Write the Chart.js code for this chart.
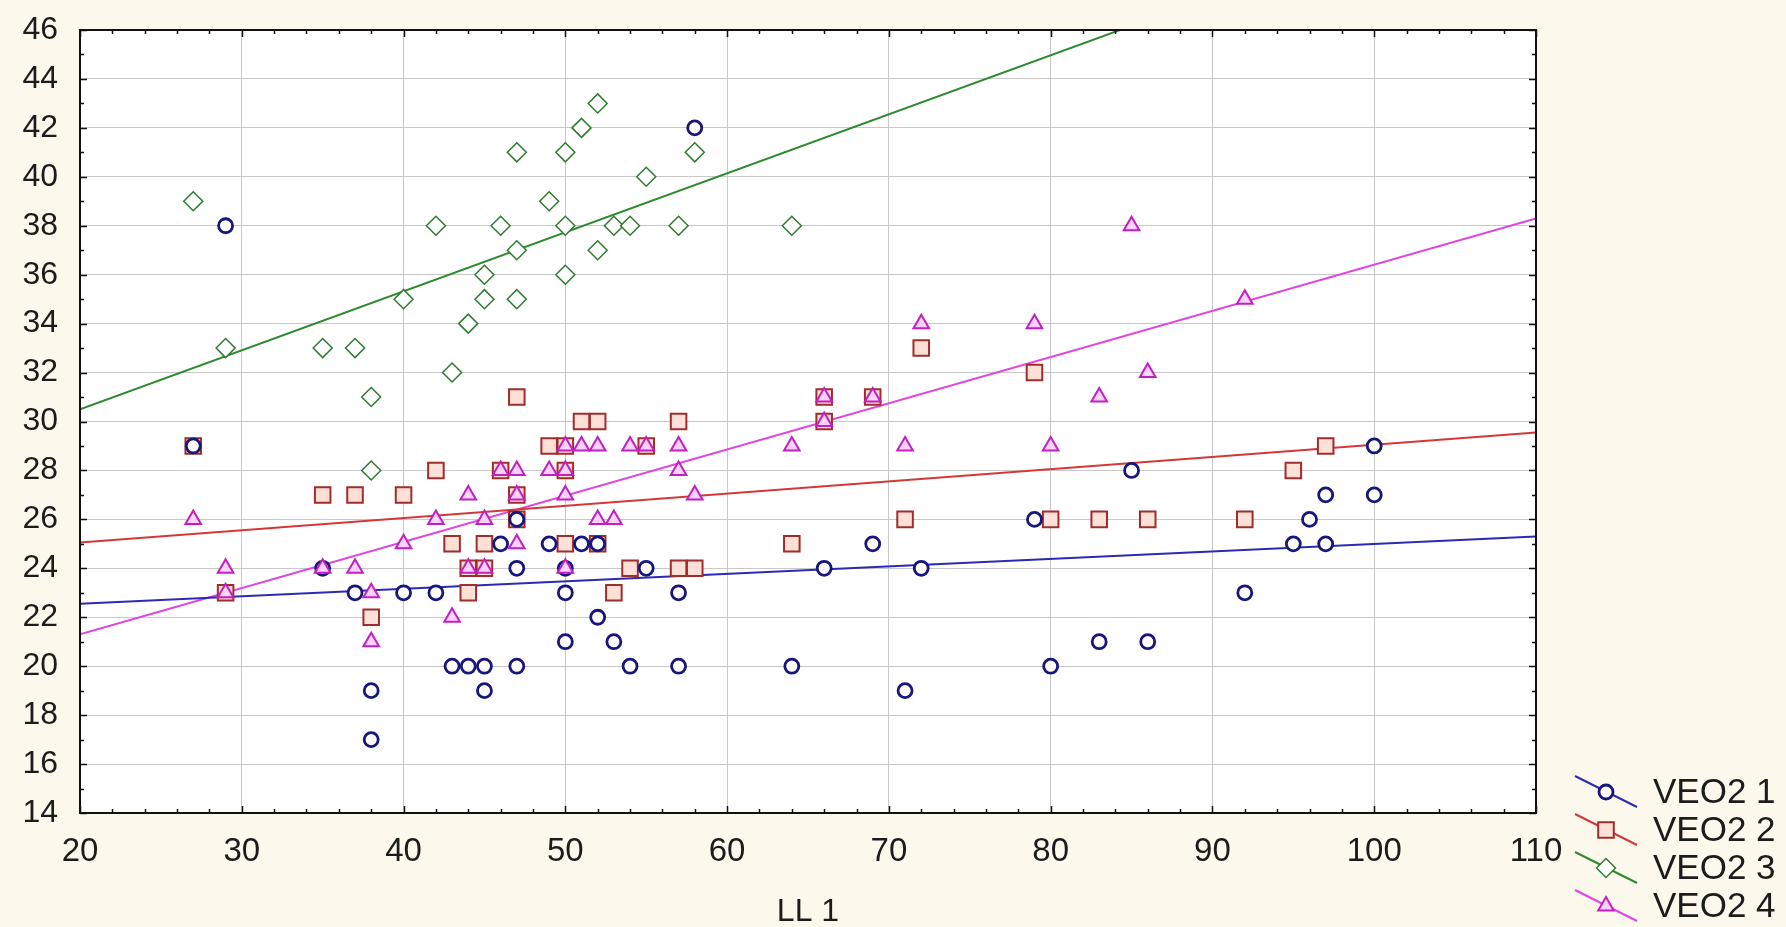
<!DOCTYPE html>
<html>
<head>
<meta charset="utf-8">
<title>VEO2 vs LL 1</title>
<script src="https://cdn.jsdelivr.net/npm/chart.js@4.4.0/dist/chart.umd.min.js"></script>
<style>
  html, body { margin: 0; padding: 0; background: #fcf8ec; }
  #wrap { width: 1786px; height: 927px; }
</style>
</head>
<body>
<div id="wrap"><canvas id="chart" width="1786" height="927"></canvas></div>
<script>
// axis ticks
const xTickValues = [20, 30, 40, 50, 60, 70, 80, 90, 100, 110];
const yTickValues = [14, 16, 18, 20, 22, 24, 26, 28, 30, 32, 34, 36, 38, 40, 42, 44, 46];

const seriesNames = ["VEO2 1", "VEO2 2", "VEO2 3", "VEO2 4"];

// VEO2 1 - circles
const veo1X = [27, 29, 35, 37, 38, 38, 40, 42, 43, 44, 45, 45, 46, 47, 47, 47, 49, 50, 50, 50, 51, 52, 52, 53,
  54, 55, 57, 57, 58, 64, 66, 69, 71, 72, 79, 80, 83, 85, 86, 92, 95, 96, 97, 97, 100, 100];
const veo1Y = [29, 38, 24, 23, 19, 17, 23, 23, 20, 20, 20, 19, 25, 26, 24, 20, 25, 24, 23, 21, 25, 25, 22, 21,
  20, 24, 23, 20, 42, 20, 24, 25, 19, 24, 26, 20, 21, 28, 21, 23, 25, 26, 25, 27, 27, 29];

// VEO2 2 - squares
const veo2X = [27, 29, 35, 37, 38, 40, 42, 43, 44, 44, 45, 45, 46, 47, 47, 47, 49, 50, 50, 50, 51, 52, 52, 53,
  54, 55, 57, 57, 58, 64, 66, 66, 69, 71, 72, 79, 80, 83, 86, 92, 95, 97];
const veo2Y = [29, 23, 27, 27, 22, 27, 28, 25, 24, 23, 24, 25, 28, 31, 27, 26, 29, 29, 28, 25, 30, 30, 25, 23,
  24, 29, 30, 24, 24, 25, 31, 30, 31, 26, 33, 32, 26, 26, 26, 26, 28, 29];

// VEO2 3 - diamonds
const veo3X = [27, 29, 35, 37, 38, 38, 40, 42, 43, 44, 45, 45, 46, 47, 47, 47, 49, 50, 50, 50, 51, 52, 52, 53,
  54, 55, 57, 58, 64];
const veo3Y = [39, 33, 33, 33, 31, 28, 35, 38, 32, 34, 35, 36, 38, 41, 37, 35, 39, 41, 38, 36, 42, 43, 37, 38,
  38, 40, 38, 41, 38];

// VEO2 4 - triangles
const veo4X = [27, 29, 29, 35, 37, 38, 38, 40, 42, 43, 44, 44, 45, 45, 46, 47, 47, 47, 49, 50, 50, 50, 50, 51,
  52, 52, 53, 54, 55, 57, 57, 58, 64, 66, 66, 69, 71, 72, 79, 80, 83, 85, 86, 92];
const veo4Y = [26, 24, 23, 24, 24, 23, 21, 25, 26, 22, 27, 24, 24, 26, 28, 28, 27, 25, 28, 29, 28, 27, 24, 29,
  29, 26, 26, 29, 29, 29, 28, 27, 29, 31, 30, 31, 29, 34, 34, 29, 31, 38, 32, 35];

// fitted lines, read at both ends of the x range
const fitX = [20, 110];
const fit1Y = [22.55, 25.3];
const fit2Y = [25.05, 29.55];
const fit3Y = [30.5, 52.2];
const fit4Y = [21.3, 38.3];

const FONT = '"Liberation Sans", Arial, sans-serif';
const toPoints = (xs, ys) => xs.map((x, i) => ({ x, y: ys[i] }));

const markerSeries = [
  { x: veo1X, y: veo1Y, style: "circle", r: 7, bw: 2.8, border: "#16167e", fill: "#ffffff", order: 2 },
  { x: veo2X, y: veo2Y, style: "rect", r: 11, bw: 2, border: "#a02c2c", fill: "#ffe0d6", order: 4 },
  { x: veo3X, y: veo3Y, style: "rectRot", r: 9.5, bw: 1.5, border: "#2e7a2e", fill: "#ffffff", order: 3 },
  { x: veo4X, y: veo4Y, style: "triangle", r: 9, bw: 2, border: "#c21fc2", fill: "#ffd2ff", order: 1 },
];
const fitColors = ["#2a2ab4", "#d33838", "#2d8a2d", "#e045e0"];
const fitYs = [fit1Y, fit2Y, fit3Y, fit4Y];

const datasets = markerSeries.map((s, i) => ({
  label: seriesNames[i],
  data: toPoints(s.x, s.y),
  showLine: false,
  pointStyle: s.style,
  pointRadius: s.r,
  pointBorderWidth: s.bw,
  pointBorderColor: s.border,
  pointBackgroundColor: s.fill,
  order: s.order,
}));
fitYs.forEach((ys, i) => {
  datasets.push({
    label: seriesNames[i] + " fit",
    type: "line",
    data: toPoints(fitX, ys),
    borderColor: fitColors[i],
    borderWidth: 2,
    pointRadius: 0,
    fill: false,
    order: 10,
  });
});

// white plot area, black frame with inward ticks
const framePlugin = {
  id: "frame",
  beforeDraw(chart) {
    const { ctx, chartArea: a } = chart;
    ctx.save();
    ctx.fillStyle = "#ffffff";
    ctx.fillRect(a.left, a.top, a.right - a.left, a.bottom - a.top);
    ctx.restore();
  },
  afterDatasetsDraw(chart) {
    const { ctx, chartArea: a } = chart;
    const xs = chart.scales.x, ys = chart.scales.y;
    ctx.save();
    ctx.strokeStyle = "#111111";
    ctx.lineWidth = 2;
    ctx.strokeRect(a.left, a.top, a.right - a.left, a.bottom - a.top);
    ctx.lineWidth = 1.5;
    ctx.beginPath();
    for (let v = xs.min; v <= xs.max; v += 2) {
      const px = Math.round(xs.getPixelForValue(v)) + 0.5;
      const len = v % 10 === 0 ? 7 : 4;
      ctx.moveTo(px, a.bottom); ctx.lineTo(px, a.bottom - len);
      ctx.moveTo(px, a.top); ctx.lineTo(px, a.top + len);
    }
    for (let v = ys.min; v <= ys.max; v += 1) {
      const py = Math.round(ys.getPixelForValue(v)) + 0.5;
      const len = v % 2 === 0 ? 7 : 4;
      ctx.moveTo(a.left, py); ctx.lineTo(a.left + len, py);
      ctx.moveTo(a.right, py); ctx.lineTo(a.right - len, py);
    }
    ctx.stroke();
    ctx.restore();
  },
};

// legend at the bottom right: slanted line with the marker on it
const sideLegend = {
  id: "sideLegend",
  afterDraw(chart) {
    const { ctx, chartArea: a } = chart;
    const cx = a.right + 70;
    const textX = a.right + 117;
    seriesNames.forEach((name, i) => {
      const cy = a.bottom - 21 + i * 38;
      const m = markerSeries[i];
      ctx.save();
      ctx.strokeStyle = fitColors[i];
      ctx.lineWidth = 2;
      ctx.beginPath();
      ctx.moveTo(cx - 31, cy - 16);
      ctx.lineTo(cx + 31, cy + 15);
      ctx.stroke();
      ctx.fillStyle = m.fill;
      ctx.strokeStyle = m.border;
      ctx.lineWidth = m.bw;
      Chart.helpers.drawPoint(ctx, { pointStyle: m.style, radius: m.r, rotation: 0, borderWidth: m.bw }, cx, cy);
      ctx.fillStyle = "#1c1c1c";
      ctx.font = "35px " + FONT;
      ctx.textBaseline = "middle";
      ctx.textAlign = "left";
      ctx.fillText(name, textX, cy + 1);
      ctx.restore();
    });
  },
};

new Chart(document.getElementById("chart"), {
  type: "scatter",
  data: { datasets },
  options: {
    responsive: false,
    animation: false,
    devicePixelRatio: 1,
    layout: { padding: { top: 30, right: 250, left: 0, bottom: 0 } },
    plugins: { legend: { display: false }, tooltip: { enabled: false } },
    scales: {
      x: {
        type: "linear",
        min: 20,
        max: 110,
        afterBuildTicks: (s) => { s.ticks = xTickValues.map((v) => ({ value: v })); },
        afterFit: (s) => { s.height = 114; },
        grid: { color: "#c8c8c8", lineWidth: 1, drawTicks: false },
        border: { display: false },
        ticks: { padding: 19, color: "#1c1c1c", autoSkip: false, maxRotation: 0, font: { family: FONT, size: 33 } },
        title: { display: true, text: "LL 1", color: "#1c1c1c", padding: 0, font: { family: FONT, size: 32, lineHeight: 0.95 } },
      },
      y: {
        type: "linear",
        min: 14,
        max: 46,
        afterBuildTicks: (s) => { s.ticks = yTickValues.map((v) => ({ value: v })); },
        afterFit: (s) => {
          s.width = 80;
          s.paddingTop = 0;
          s.paddingBottom = 0;
        },
        grid: { color: "#c8c8c8", lineWidth: 1, drawTicks: false },
        border: { display: false },
        ticks: { padding: 22, color: "#1c1c1c", autoSkip: false, font: { family: FONT, size: 32 } },
      },
    },
  },
  plugins: [framePlugin, sideLegend],
});
</script>
</body>
</html>
